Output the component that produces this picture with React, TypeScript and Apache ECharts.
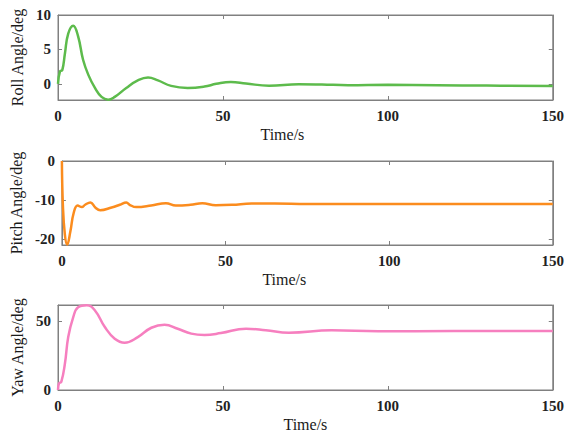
import React, { useEffect, useRef } from "react";
import * as echarts from "echarts";

const rollTime = [0, 0.6, 1.3, 2.1, 3.1, 4.6, 6.1, 7.6, 9.2, 11.2, 13.2, 15.2, 17.2, 20.7, 24.2, 27.3, 30.3, 34.3, 39.3, 44.4, 48, 52.4, 57, 64, 73, 80, 88, 100, 115, 130, 150];
const rollValues = [0, 1.8, 2.0, 4.4, 7.3, 8.45, 6.9, 3.5, 1.3, -0.6, -1.9, -2.3, -1.9, -0.6, 0.5, 0.92, 0.5, -0.3, -0.6, -0.4, 0, 0.28, 0.05, -0.28, -0.05, -0.1, -0.2, -0.15, -0.2, -0.25, -0.3];

const pitchTime = [0, 0.3, 0.9, 1.6, 2.6, 3.6, 4.8, 6.1, 7.1, 8.7, 10.2, 11.7, 15.2, 17.7, 19.7, 20.7, 22.7, 27.3, 31.8, 34.8, 39.3, 42.9, 47, 52, 58, 65, 75, 90, 110, 130, 150];
const pitchValues = [0, -11.2, -18.8, -21.4, -18, -13.3, -11.4, -11.8, -11.2, -10.6, -11.9, -12.6, -11.9, -11.2, -10.6, -11.2, -11.8, -11.4, -10.8, -11.4, -11.2, -10.8, -11.3, -11.2, -10.9, -10.9, -11.0, -11.0, -11.0, -11.0, -11.0];

const yawTime = [0, 0.3, 1, 2.1, 3.1, 4.6, 6.1, 8.7, 11.2, 14.2, 17.2, 20.2, 24.2, 28.3, 32.3, 36.3, 40.4, 44.4, 49.4, 57, 63, 70, 83, 97, 120, 150];
const yawValues = [0, 4.8, 6, 19.3, 38.6, 53, 60.4, 61.8, 58, 45.9, 37.4, 34.5, 38.6, 45.4, 47.6, 44.7, 41.1, 40.1, 41.5, 44.7, 43.6, 41.8, 43.5, 42.8, 43, 43];

const xTicks = [0, 50, 100, 150];
const rollTicks = [0, 5, 10];
const pitchTicks = [-20, -10, 0];
const yawTicks = [0, 50];

const panels = [
  { name: "Roll Angle/deg", time: rollTime, values: rollValues, ticks: rollTicks, min: -2.35, max: 10, color: "#5dbb4c", top: 15, height: 85, nameGap: 26, xShift: true },
  { name: "Pitch Angle/deg", time: pitchTime, values: pitchValues, ticks: pitchTicks, min: -21.5, max: 0, color: "#fb8c1e", top: 161, height: 84, nameGap: 32, xShift: true },
  { name: "Yaw Angle/deg", time: yawTime, values: yawValues, ticks: yawTicks, min: 0, max: 62, color: "#f67fbf", top: 305, height: 85, nameGap: 26, xShift: false },
];

const FONT = "Liberation Serif";
const AXIS_COLOR = "#808080";

export default function App() {
  const ref = useRef<HTMLDivElement>(null);
  useEffect(() => {
    if (!ref.current) return;
    const chart = echarts.init(ref.current, null, { renderer: "svg" });
    const grid: any[] = [];
    const xAxis: any[] = [];
    const yAxis: any[] = [];
    const series: any[] = [];
    panels.forEach((p, i) => {
      grid.push({ left: 58, right: 12, top: p.top, height: p.height, show: true, borderColor: AXIS_COLOR, borderWidth: 1, backgroundColor: "#fff" });
      xAxis.push({
        type: "value", gridIndex: i, min: 0, max: 150, interval: 50, position: "bottom",
        axisLine: { show: true, onZero: false, lineStyle: { color: AXIS_COLOR } },
        axisTick: { show: true, inside: true, length: 4, lineStyle: { color: AXIS_COLOR } },
        axisLabel: { show: true, margin: 8, fontFamily: FONT, fontSize: 15, fontWeight: "bold", color: "#222", customValues: xTicks },
        splitLine: { show: false },
        name: "Time/s", nameLocation: "middle", nameGap: 26,
        nameTextStyle: { fontFamily: FONT, fontSize: 16, color: "#1a1a1a", padding: p.xShift ? [0, 46, 0, 0] : 0 },
      });
      xAxis.push({
        type: "value", gridIndex: i, min: 0, max: 150, interval: 50, position: "top",
        axisLine: { show: true, onZero: false, lineStyle: { color: AXIS_COLOR } },
        axisTick: { show: true, inside: true, length: 4, lineStyle: { color: AXIS_COLOR } },
        axisLabel: { show: false }, splitLine: { show: false },
      });
      yAxis.push({
        type: "value", gridIndex: i, min: p.min, max: p.max, position: "left",
        axisLine: { show: true, onZero: false, lineStyle: { color: AXIS_COLOR } },
        axisTick: { show: true, inside: true, length: 4, lineStyle: { color: AXIS_COLOR }, customValues: p.ticks },
        axisLabel: { show: true, margin: 7, fontFamily: FONT, fontSize: 15, fontWeight: "bold", color: "#222", customValues: p.ticks },
        splitLine: { show: false },
        name: p.name, nameLocation: "middle", nameGap: p.nameGap,
        nameTextStyle: { fontFamily: FONT, fontSize: 16, color: "#1a1a1a" },
      });
      yAxis.push({
        type: "value", gridIndex: i, min: p.min, max: p.max, position: "right",
        axisLine: { show: true, onZero: false, lineStyle: { color: AXIS_COLOR } },
        axisTick: { show: true, inside: true, length: 4, lineStyle: { color: AXIS_COLOR }, customValues: p.ticks },
        axisLabel: { show: false }, splitLine: { show: false },
      });
      series.push({
        type: "line", xAxisIndex: 2 * i, yAxisIndex: 2 * i,
        data: p.time.map((t, j) => [t, p.values[j]]),
        showSymbol: false, smooth: 0.45,
        lineStyle: { color: p.color, width: 2.5 }, itemStyle: { color: p.color },
        clip: true,
      });
    });
    chart.setOption({ animation: false, backgroundColor: "#fff", grid, xAxis, yAxis, series });
    return () => chart.dispose();
  }, []);
  return <div ref={ref} style={{ position: "fixed", left: 0, top: 0, width: 567, height: 435, background: "#fff" }} />;
}
